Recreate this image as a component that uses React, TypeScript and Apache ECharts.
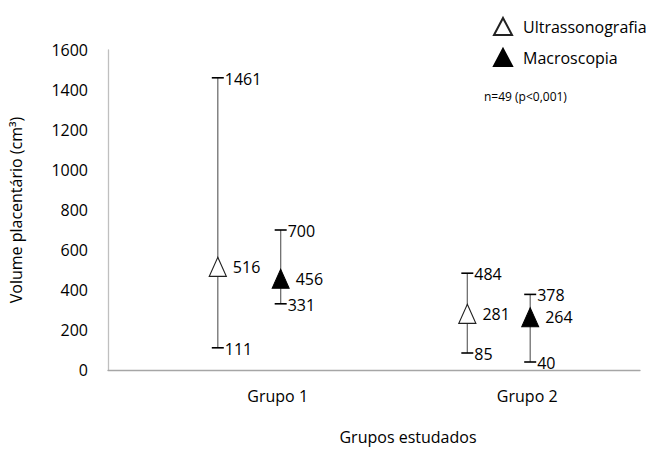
import React, { useEffect, useRef } from 'react';
import * as echarts from 'echarts';

const groups = ['Grupo 1', 'Grupo 2'];
const seriesNames = ['Ultrassonografia', 'Macroscopia'];
const ultraMin = [111, 85];
const ultraMedian = [516, 281];
const ultraMax = [1461, 484];
const macroMin = [331, 40];
const macroMedian = [456, 264];
const macroMax = [700, 378];
const groupPositions = [1, 2];
const seriesOffsets = [-0.24, 0.012];

const FONT = '"Open Sans", sans-serif';
const FS = 16;

export default function App() {
  const ref = useRef<HTMLDivElement>(null);
  useEffect(() => {
    if (!ref.current) return;
    const chart = echarts.init(ref.current, undefined, { renderer: 'svg' });

    const mins = [ultraMin, macroMin];
    const meds = [ultraMedian, macroMedian];
    const maxs = [ultraMax, macroMax];

    const errorSeries = seriesNames.map((name, s) => ({
      type: 'custom',
      name: name + ' range',
      z: 2,
      silent: true,
      data: groupPositions.map((g, i) => [g + seriesOffsets[s], mins[s][i], maxs[s][i]]),
      renderItem: (params: any, api: any) => {
        const x = api.value(0);
        const lo = api.coord([x, api.value(1)]);
        const hi = api.coord([x, api.value(2)]);
        const cw = 6;
        const textEl = (txt: string, px: number, py: number) => ({
          type: 'text',
          style: {
            text: txt,
            x: px,
            y: py,
            fill: '#000',
            fontSize: FS,
            fontFamily: FONT,
            align: 'left',
            verticalAlign: 'middle',
          },
        });
        return {
          type: 'group',
          children: [
            { type: 'line', shape: { x1: lo[0], y1: lo[1], x2: hi[0], y2: hi[1] }, style: { stroke: '#707070', lineWidth: 1.3 } },
            { type: 'line', shape: { x1: lo[0] - cw, y1: lo[1], x2: lo[0] + cw, y2: lo[1] }, style: { stroke: '#000', lineWidth: 1.6 } },
            { type: 'line', shape: { x1: hi[0] - cw, y1: hi[1], x2: hi[0] + cw, y2: hi[1] }, style: { stroke: '#000', lineWidth: 1.6 } },
            textEl(String(api.value(1)), lo[0] + cw + 1, lo[1] + 1),
            textEl(String(api.value(2)), hi[0] + cw + 1, hi[1] + 1),
          ],
        };
      },
    }));

    const medianSeries = seriesNames.map((name, s) => ({
      type: 'scatter',
      name,
      z: 3,
      symbol: 'triangle',
      symbolSize: [17, 19],
      itemStyle: s === 0
        ? { color: '#fff', borderColor: '#222', borderWidth: 1.2, opacity: 1 }
        : { color: '#000', borderColor: '#000', borderWidth: 1, opacity: 1 },
      label: {
        show: true,
        position: 'right',
        distance: 6,
        color: '#000',
        opacity: 1,
        fontSize: FS,
        fontFamily: FONT,
        formatter: (p: any) => String(p.value[1]),
      },
      data: groupPositions.map((g, i) => [g + seriesOffsets[s], meds[s][i]]),
    }));

    chart.setOption({
      animation: false,
      backgroundColor: '#fff',
      textStyle: { fontFamily: FONT },
      grid: { left: 107, right: 14, top: 50, bottom: 80, containLabel: false },
      legend: {
        data: seriesNames,
        orient: 'vertical',
        left: 488,
        top: 12,
        itemWidth: 18,
        itemHeight: 17,
        itemGap: 12,
        textStyle: { fontSize: FS, fontFamily: FONT, color: '#000', padding: [0, 0, 0, 6] },
      },
      xAxis: {
        type: 'value',
        min: 0.32,
        max: 2.452,
        axisLine: { show: true, lineStyle: { color: '#a6a6a6', width: 1.3 } },
        axisTick: { show: false },
        splitLine: { show: false },
        axisLabel: {
          customValues: groupPositions,
          formatter: (v: number) => groups[Math.round(v) - 1] ?? '',
          fontSize: FS,
          fontFamily: FONT,
          color: '#000',
          margin: 18,
        },
      },
      yAxis: {
        type: 'value',
        min: 0,
        max: 1600,
        interval: 200,
        name: 'Volume placentário (cm³)',
        nameLocation: 'middle',
        nameGap: 84,
        nameTextStyle: { fontSize: FS, fontFamily: FONT, color: '#000' },
        axisLine: { show: true, lineStyle: { color: '#bfbfbf', width: 1.3 } },
        axisTick: { show: false },
        splitLine: { show: false },
        axisLabel: { fontSize: FS, fontFamily: FONT, color: '#000', margin: 20, formatter: (v: number) => String(v) },
      },
      graphic: [
        {
          type: 'text',
          x: 408,
          y: 437,
          style: {
            text: 'Grupos estudados',
            fill: '#000',
            fontSize: FS,
            fontFamily: FONT,
            align: 'center',
            verticalAlign: 'middle',
          },
        },
        {
          type: 'text',
          x: 484,
          y: 96,
          style: {
            text: 'n=49 (p<0,001)',
            fill: '#000',
            fontSize: 12,
            fontFamily: FONT,
            align: 'left',
            verticalAlign: 'middle',
          },
        },
      ],
      series: [...errorSeries, ...medianSeries],
    });
    return () => chart.dispose();
  }, []);
  return <div ref={ref} style={{ position: 'absolute', left: 0, top: 0, width: 654, height: 450 }} />;
}
